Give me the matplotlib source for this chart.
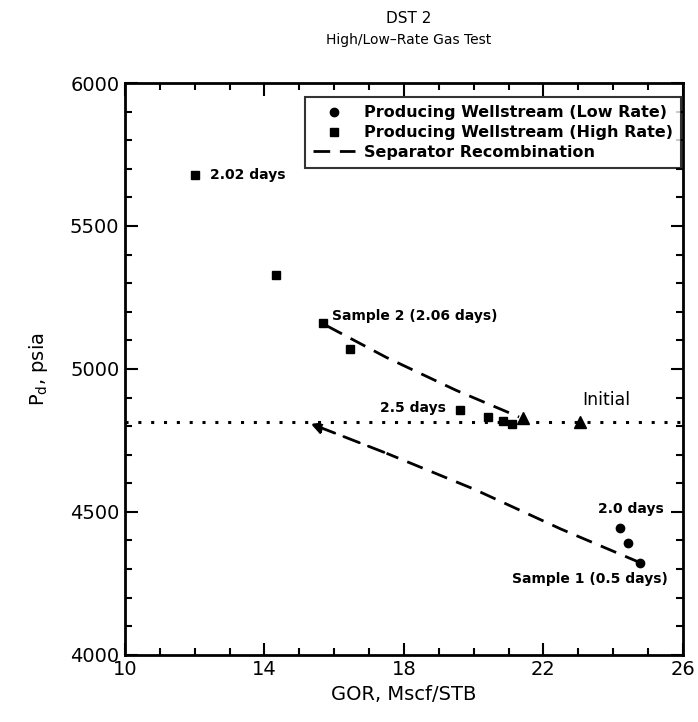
import matplotlib
matplotlib.use("Agg")
import matplotlib.pyplot as plt
from matplotlib.ticker import MultipleLocator

# producing wellstream samples, GOR (Mscf/STB) vs dew point (psia)
low_gor = [24.18, 24.41, 24.78]
low_pd = [4444, 4392, 4322]
high_gor = [12.0, 14.33, 15.67, 16.45, 19.6, 20.4, 20.83, 21.09]
high_pd = [5680, 5330, 5161, 5070, 4857, 4832, 4818, 4808]

# separator recombination trends
recomb_up_gor = [15.8, 17.5, 19.5, 21.3]
recomb_up_pd = [5150, 5040, 4925, 4832]
recomb_lo_gor = [24.78, 22.5, 20.0, 17.5, 15.25]
recomb_lo_pd = [4322, 4440, 4580, 4705, 4812]

initial_gor = [21.4, 23.05]
initial_pd = [4828, 4815]
initial_line = 4815

x_ticks = [10, 14, 18, 22, 26]

plt.rcParams['font.family'] = ['DejaVu Sans']

fig = plt.figure(figsize=(6.98, 7.22), dpi=100)
ax = fig.add_axes([0.179, 0.093, 0.7995, 0.792])

ax.axhline(initial_line, color='black', linestyle=(0, (1, 3.2)), linewidth=2.2)

ax.plot(low_gor, low_pd, 'o', color='black', markersize=6,
        label='Producing Wellstream (Low Rate)')
ax.plot(high_gor, high_pd, 's', color='black', markersize=6,
        label='Producing Wellstream (High Rate)')
ax.plot(recomb_up_gor, recomb_up_pd, color='black', linestyle=(0, (6, 3.5)),
        linewidth=2, label='Separator Recombination')
ax.plot(recomb_lo_gor[:-1], recomb_lo_pd[:-1], color='black',
        linestyle=(0, (6, 3.5)), linewidth=2)
ax.annotate('', xy=(recomb_lo_gor[-1], recomb_lo_pd[-1]),
            xytext=(recomb_lo_gor[-2], recomb_lo_pd[-2]),
            arrowprops=dict(arrowstyle='-|>', color='black', lw=2,
                            linestyle=(0, (6, 3.5)), mutation_scale=16))
ax.plot(initial_gor, initial_pd, '^', color='black', markersize=9)

bold = dict(fontsize=10, fontweight='bold')
ax.text(12.45, 5680, '2.02 days', va='center', ha='left', **bold)
ax.text(15.95, 5185, 'Sample 2 (2.06 days)', va='center', ha='left', **bold)
ax.text(19.2, 4865, '2.5 days', va='center', ha='right', **bold)
ax.text(23.8, 4890, 'Initial', va='center', ha='center', fontsize=12.5)
ax.text(24.5, 4510, '2.0 days', va='center', ha='center', **bold)
ax.text(21.1, 4265, 'Sample 1 (0.5 days)', va='center', ha='left', **bold)

ax.set_xlim(10, 26)
ax.set_ylim(4000, 6000)
ax.set_xticks(x_ticks)
ax.xaxis.set_minor_locator(MultipleLocator(1))
ax.yaxis.set_major_locator(MultipleLocator(500))
ax.yaxis.set_minor_locator(MultipleLocator(100))
ax.tick_params(which='both', direction='in', top=True, right=True, width=1.5)
ax.tick_params(which='major', length=9, labelsize=14, pad=4)
ax.tick_params(which='minor', length=5)
for s in ax.spines.values():
    s.set_linewidth(2)

ax.set_xlabel('GOR, Mscf/STB', fontsize=14, labelpad=4)
ax.set_ylabel(r'P$_\mathrm{d}$, psia', fontsize=14, labelpad=14)

fig.text(0.585, 0.975, 'DST 2', ha='center', va='center', fontsize=11)
fig.text(0.585, 0.945, 'High/Low\u2013Rate Gas Test', ha='center', va='center',
         fontsize=10)

leg = ax.legend(loc='upper right', bbox_to_anchor=(0.997, 0.975),
                prop={'weight': 'bold', 'size': 11.5},
                frameon=True, fancybox=False, edgecolor='black',
                borderaxespad=0.0, borderpad=0.5, handlelength=2.6,
                handletextpad=0.6, labelspacing=0.3)
leg.get_frame().set_linewidth(1.5)

fig.savefig('out.png', dpi=100)
